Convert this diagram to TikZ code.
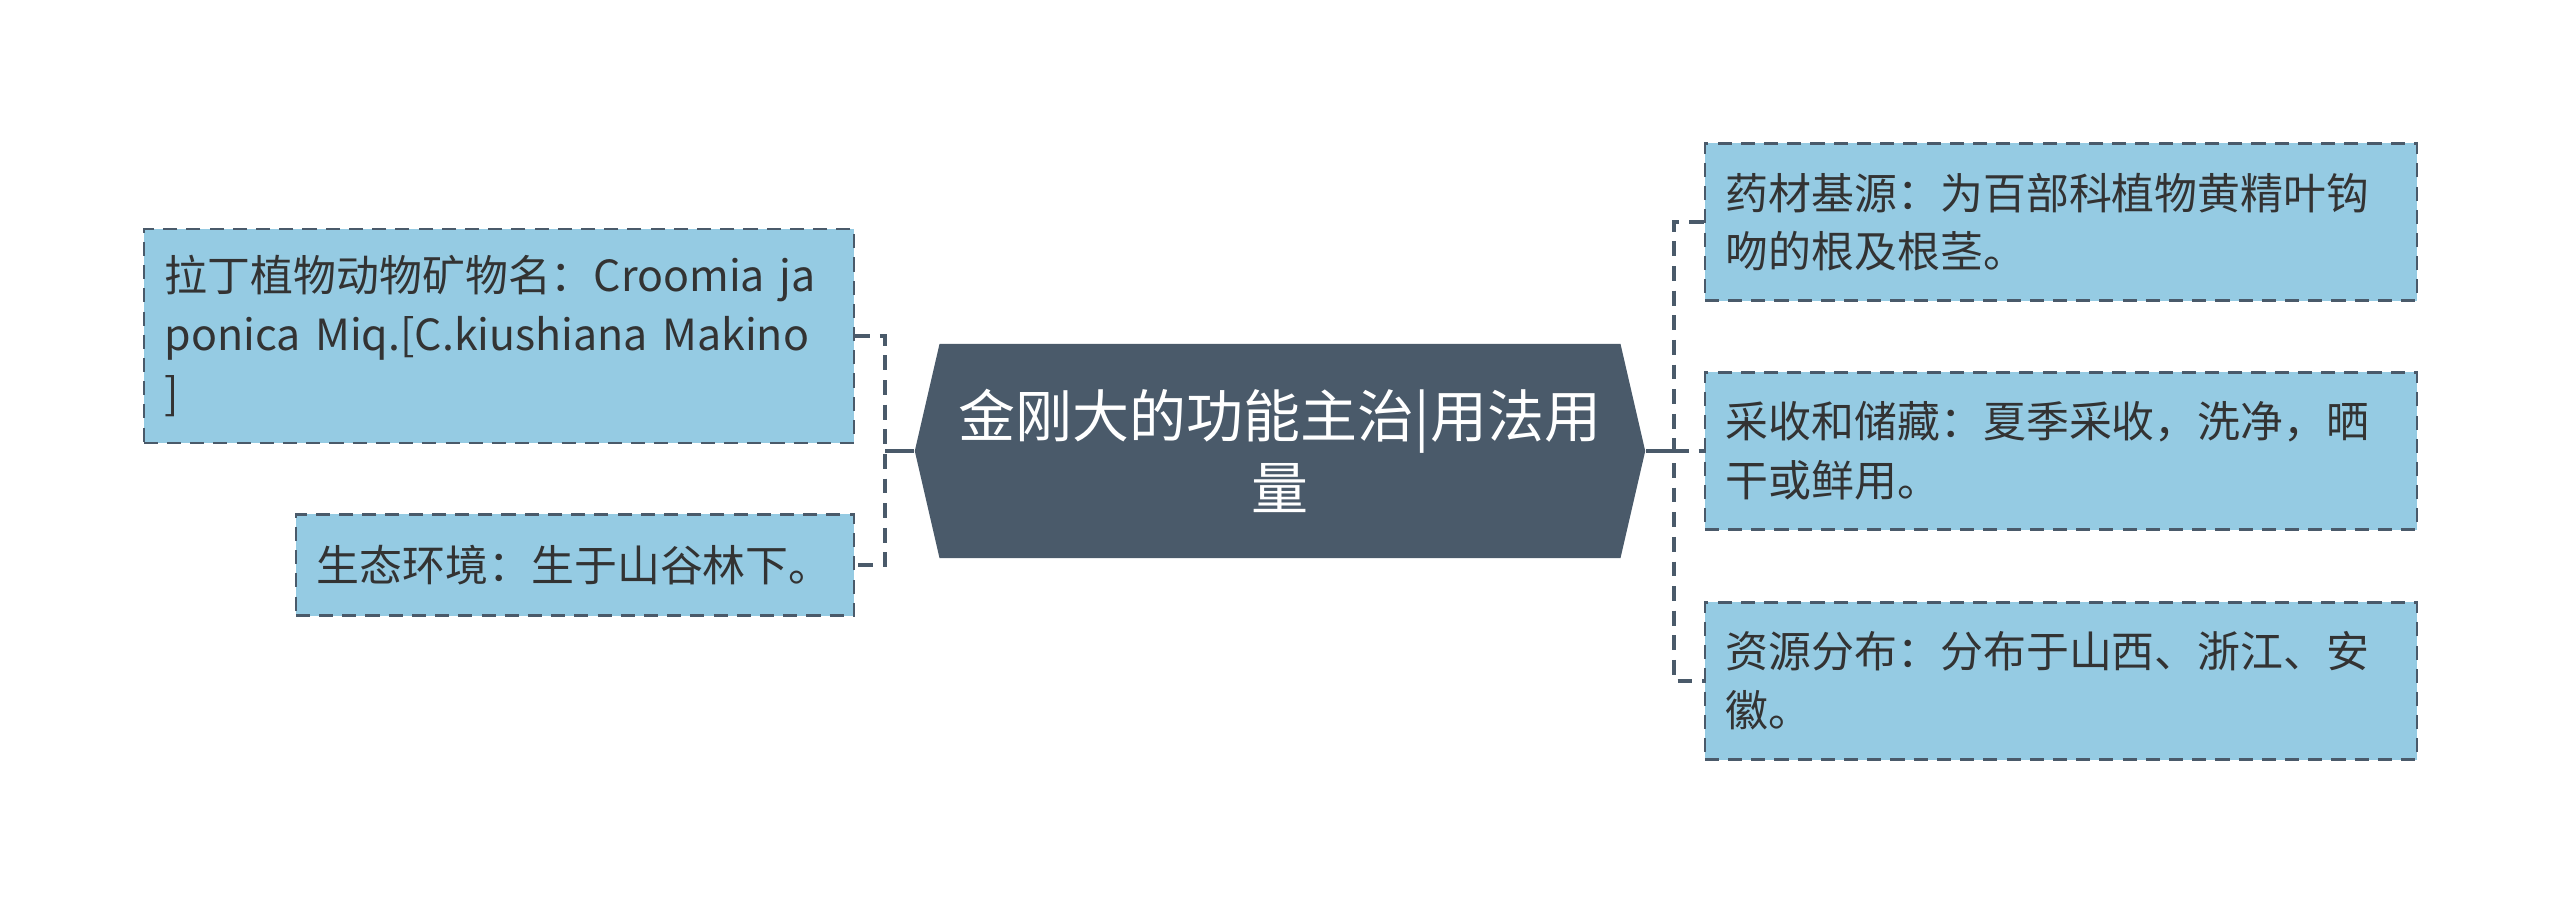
\documentclass[tikz,border=0pt]{standalone}
\usepackage{fontspec}
\setmainfont{Noto Sans CJK SC}
\usetikzlibrary{shapes.symbols}
\definecolor{slate}{HTML}{4A5A6A}
\definecolor{skyfill}{HTML}{95CBE3}
\definecolor{ink}{HTML}{333333}

\begin{document}
\begin{tikzpicture}[x=0.01cm,y=-0.01cm,
  leaf/.style={draw=slate,line width=0.6pt,dash pattern=on 4pt off 2.6pt,fill=skyfill,
    text=ink,font=\fontsize{12.2}{16.7}\selectfont,align=left,inner xsep=0.21cm,inner ysep=0pt},
  topicbox/.style={signal,signal to=west and east,signal pointer angle=154,fill=slate,
    text=white,font=\fontsize{16.2}{20.4}\selectfont,align=center,
    minimum width=7.30cm,minimum height=2.14cm,inner sep=0pt},
  stem/.style={draw=slate,line width=1pt},
  link/.style={draw=slate,line width=1pt,dash pattern=on 4.2pt off 2.8pt}]
\useasboundingbox (0,0) rectangle (2560,903);

\node[topicbox] (topic) at (1280,451) {金刚大的功能主治|用法用\\量};

\node[leaf,text width=6.68cm,minimum height=2.14cm] (latin) at (499,336)
  {拉丁植物动物矿物名：Croomia ja\\ponica Miq.[C.kiushiana Makino\\]};
\node[leaf,text width=5.16cm,minimum height=1.01cm] (habitat) at (575,565)
  {生态环境：生于山谷林下。};

\node[leaf,text width=6.70cm,minimum height=1.57cm] (source) at (2061,222)
  {药材基源：为百部科植物黄精叶钩\\吻的根及根茎。};
\node[leaf,text width=6.70cm,minimum height=1.57cm] (harvest) at (2061,451)
  {采收和储藏：夏季采收，洗净，晒\\干或鲜用。};
\node[leaf,text width=6.70cm,minimum height=1.57cm] (spread) at (2061,681)
  {资源分布：分布于山西、浙江、安\\徽。};

\coordinate (lbus) at (885,451);
\coordinate (rbus) at (1674,451);

\draw[stem] (topic.west) -- (lbus);
\draw[link] (latin.east) -- (lbus |- latin.east) -- (lbus |- habitat.east) -- (habitat.east);

\draw[stem] (topic.east) -- (rbus);
\draw[link] (source.west) -- (rbus |- source.west) -- (rbus |- spread.west) -- (spread.west);
\draw[link] (rbus) -- (harvest.west);
\end{tikzpicture}
\end{document}
